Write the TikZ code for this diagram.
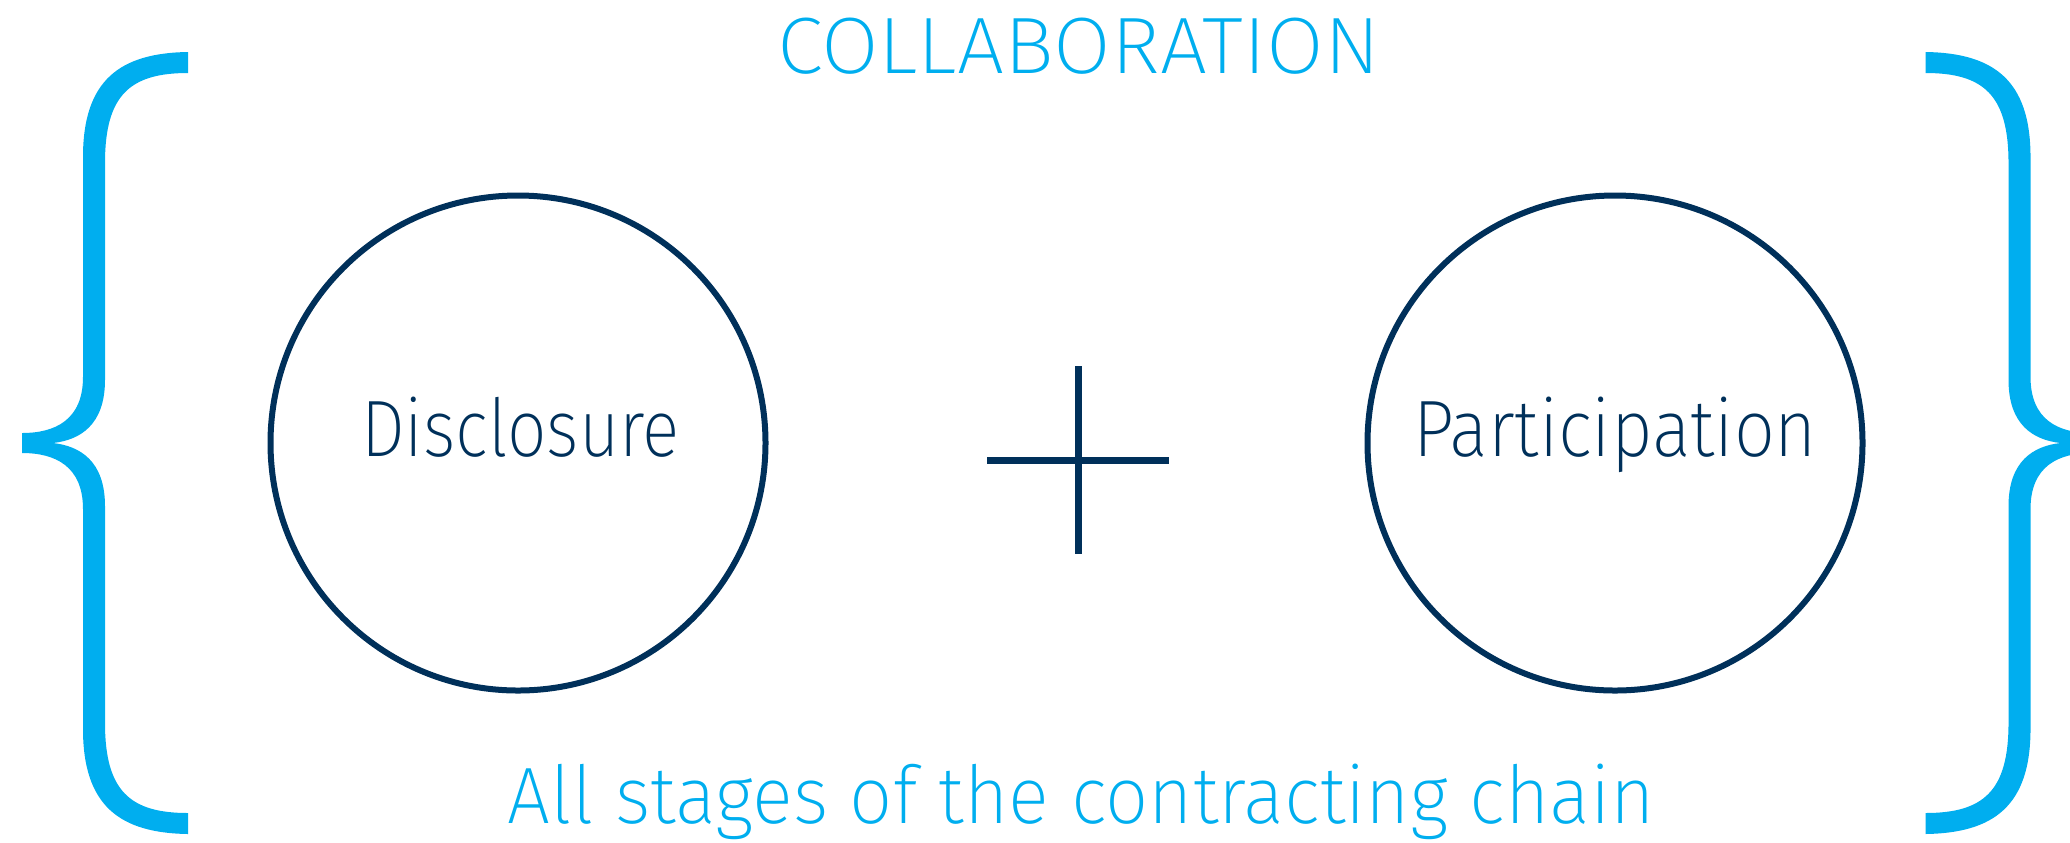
\documentclass[tikz,border=0pt]{standalone}
\usepackage{fontspec}
\IfFontExistsTF{Fira Sans ExtraLight}{\setmainfont{Fira Sans ExtraLight}}{\setmainfont{Fira Sans Light}}
\usepackage{graphicx}
\definecolor{navy}{HTML}{00305A}
\definecolor{cyanb}{HTML}{00AEEF}
\tikzset{
  ringnode/.style={circle, draw=navy, line width=3pt, inner sep=0pt, minimum size=247.5pt},
  lbl/.style={anchor=base, inner sep=0pt, font=\fontsize{40}{48}\selectfont},
  navytxt/.style={lbl, text=navy},
  cyantxt/.style={lbl, text=cyanb},
  plusline/.style={draw=navy, line width=3.5pt},
  bracefill/.style={fill=cyanb, draw=none}
}
\newcommand\bracedraw{%
  \fill[bracefill] (188,52) -- (188,73)
    .. controls (130,73) and (105,95) .. (105,163)
    -- (105,380)
    .. controls (105,425) and (80,440) .. (53,443)
    .. controls (80,446) and (105,461) .. (105,506)
    -- (105,723)
    .. controls (105,791) and (130,813) .. (188,813)
    -- (188,834)
    .. controls (120,833) and (83,806) .. (83,729)
    -- (83,509)
    .. controls (83,466) and (55,453) .. (22,453)
    -- (22,433)
    .. controls (55,433) and (83,420) .. (83,377)
    -- (83,157)
    .. controls (83,80) and (120,53) .. (188,52)
    -- cycle;}
\begin{document}
\begin{tikzpicture}[x=0.5pt,y=-0.5pt]
  \useasboundingbox (0,0) rectangle (2070,842);
  \clip (0,0) rectangle (2070,842);
  % braces
  \begin{scope}
    \bracedraw
  \end{scope}
  \begin{scope}[shift={(2113.5,0)}, xscale=-1]
    \bracedraw
  \end{scope}
  % circles
  \node[ringnode] (disc) at (518,443) {};
  \node[ringnode] (part) at (1615,443) {};
  % labels
  \node[navytxt] (disct) at (520.5,456) {\resizebox{159.5pt}{\height}{Disclosure}};
  \node[navytxt] (partt) at (1615,456) {\resizebox{202pt}{\height}{Participation}};
  \node[cyantxt] (collab) at (1078.5,73) {\resizebox{301.5pt}{\height}{COLLABORATION}};
  \node[cyantxt] (stages) at (1081.5,823) {\resizebox{573.5pt}{\height}{All stages of the contracting chain}};
  % plus
  \coordinate (plusc) at (1078,460);
  \draw[plusline] ([xshift=-45.5pt]plusc) -- ([xshift=45.5pt]plusc);
  \draw[plusline] ([yshift=47pt]plusc) -- ([yshift=-47pt]plusc);
\end{tikzpicture}
\end{document}
